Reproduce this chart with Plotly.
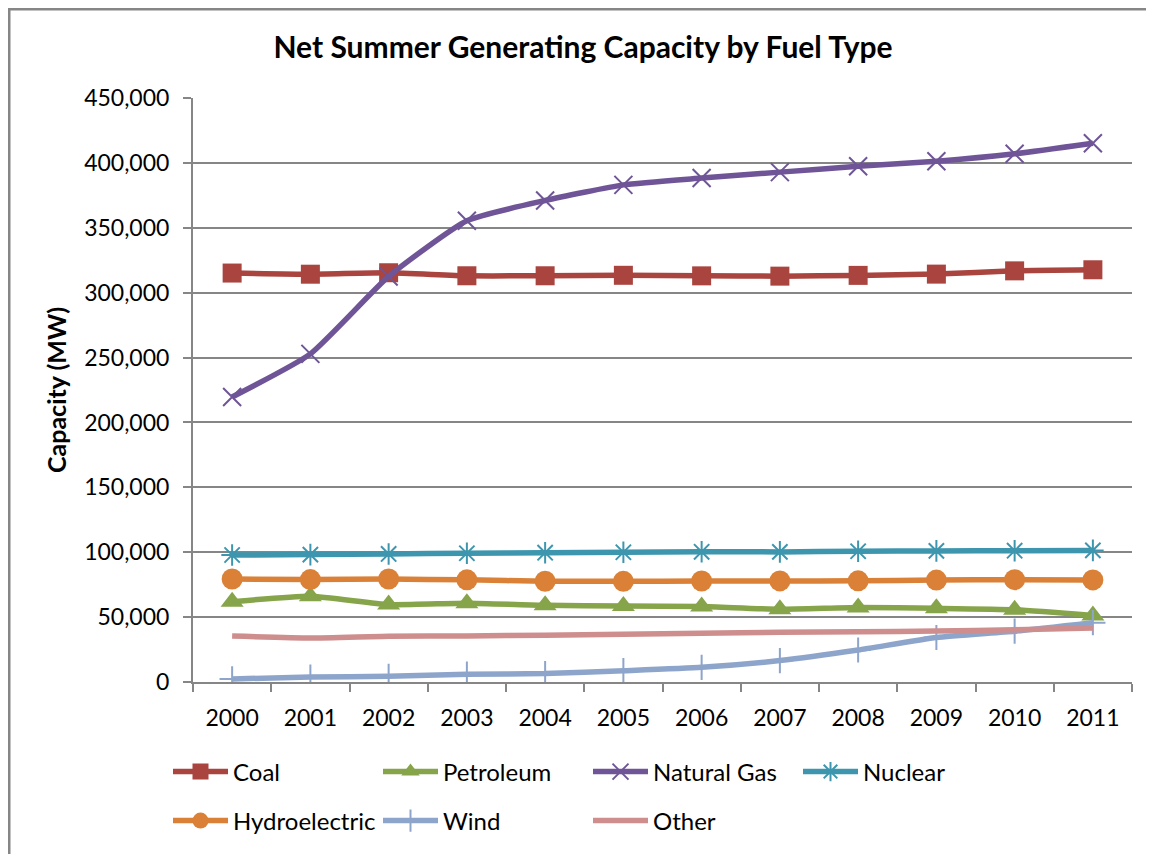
import plotly.graph_objects as go

years = ["2000", "2001", "2002", "2003", "2004", "2005", "2006", "2007", "2008", "2009", "2010", "2011"]
coal = [315114, 314230, 315350, 313019, 313020, 313380, 312956, 312738, 313322, 314294, 316800, 317640]
petroleum = [61837, 66162, 59651, 60730, 59119, 58548, 58097, 56068, 57445, 56781, 55647, 51208]
natural_gas = [219590, 252832, 312512, 355442, 371011, 383061, 388294, 392876, 397432, 401272, 407028, 415191]
nuclear = [97860, 98159, 98657, 99209, 99628, 99988, 100334, 100266, 100755, 101004, 101167, 101419]
hydroelectric = [79393, 78916, 79356, 78694, 77641, 77541, 77821, 77885, 77930, 78518, 78825, 78652]
wind = [2377, 3864, 4417, 5995, 6456, 8706, 11329, 16515, 24651, 34296, 39135, 45676]
other = [35400, 33900, 35300, 35500, 36100, 36800, 37500, 38300, 38700, 39300, 40300, 41700]

y_ticks = [0, 50000, 100000, 150000, 200000, 250000, 300000, 350000, 400000, 450000]

FONT = "Lato"
OFF = 8  # page body margin offset

series = [
    ("Coal", coal, "#A9443F", dict(symbol="square", size=19), "legend"),
    ("Petroleum", petroleum, "#86A44A", dict(symbol="triangle-up", size=20), "legend"),
    ("Natural Gas", natural_gas, "#6F5597", dict(symbol="x-thin-open", size=18, line=dict(width=2, color="#6F5597")), "legend"),
    ("Nuclear", nuclear, "#3D96AE", dict(symbol="asterisk-open", size=18, line=dict(width=2, color="#3D96AE")), "legend"),
    ("Hydroelectric", hydroelectric, "#DA8137", dict(symbol="circle", size=21), "legend2"),
    ("Wind", wind, "#8EA5CB", dict(symbol="cross-thin-open", size=18, line=dict(width=2, color="#8EA5CB")), "legend2"),
    ("Other", other, "#CE8E8D", None, "legend2"),
]

fig = go.Figure()
for name, vals, color, marker, leg in series:
    if marker is None:
        fig.add_trace(go.Scatter(x=years, y=vals, name=name, mode="lines", legend=leg,
                                 line=dict(color=color, width=5.5, shape="spline", smoothing=0.5)))
    else:
        m = dict(color=color)
        m.update(marker)
        fig.add_trace(go.Scatter(x=years, y=vals, name=name, mode="lines+markers", legend=leg,
                                 line=dict(color=color, width=5.5, shape="spline", smoothing=0.5),
                                 marker=m))

leg_common = dict(orientation="h", xref="container", yref="container", xanchor="left", yanchor="middle",
                  entrywidth=140, entrywidthmode="pixels", itemwidth=55,
                  font=dict(family=FONT, size=24, color="black"), bgcolor="rgba(0,0,0,0)")

L, R, T, B = 193 - OFF, 1154 - (1132 - OFF), 98 - OFF, 854 - (682 - OFF)
PW, PH = 1154 - L - R, 854 - T - B

fig.update_layout(
    width=1154, height=854,
    margin=dict(l=L, r=R, t=T, b=B, autoexpand=False),
    paper_bgcolor="white", plot_bgcolor="white",
    font=dict(family=FONT, size=23, color="black"),
    title=dict(text="<b>Net Summer Generating Capacity by Fuel Type</b>", x=(583 - OFF) / 1154, xref="container",
               xanchor="center", y=1 - (47 - OFF) / 854, yref="container", yanchor="middle",
               font=dict(family=FONT, size=30, color="black")),
    showlegend=True,
    legend=dict(x=(168 - OFF) / 1154, y=1 - (772 - OFF) / 854, **leg_common),
    legend2=dict(x=(168 - OFF) / 1154, y=1 - (821 - OFF) / 854, **leg_common),
    xaxis=dict(type="category", range=[-0.5, 11.5], showgrid=False, showline=True, linecolor="#868686",
               linewidth=2, ticks="outside", tickson="boundaries", ticklen=8, tickcolor="#868686",
               tickwidth=2, tickfont=dict(family=FONT, size=23, color="black"), ticklabelstandoff=14),
    yaxis=dict(range=[0, 450000], tickvals=y_ticks, tickformat=",d", showgrid=True, gridcolor="#868686",
               gridwidth=2, showline=True, linecolor="#868686", linewidth=2, ticks="outside", ticklen=8,
               tickcolor="#868686", tickwidth=2, zeroline=False,
               tickfont=dict(family=FONT, size=23, color="black"), ticklabelstandoff=9,
               title=dict(text="<b>Capacity (MW)</b>", font=dict(family=FONT, size=25, color="black"),
                          standoff=10)),
)

fig.add_shape(type="rect", xref="paper", yref="paper",
              x0=(1 - L) / PW, x1=1.2, y0=-0.5, y1=1 + (T - 1) / PH,
              line=dict(color="#868686", width=3), fillcolor="rgba(0,0,0,0)", layer="below")

fig.write_html("out.html")
